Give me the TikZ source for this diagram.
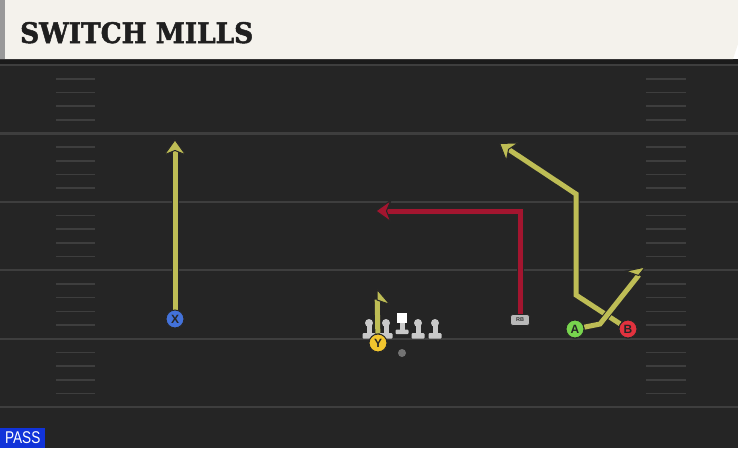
\documentclass[tikz,border=0pt]{standalone}
\usepackage{fontspec}
\usetikzlibrary{positioning, arrows.meta}
\newfontfamily\titlefont[RawFeature={embolden=1.8}]{DejaVu Serif Bold}
\newfontfamily\tagfont{Liberation Sans}
\definecolor{fieldbg}{HTML}{252525}
\definecolor{bandbg}{HTML}{1B1B1B}
\definecolor{yardgray}{HTML}{3E3E3E}
\definecolor{headcream}{HTML}{F4F2EC}
\definecolor{routeyellow}{HTML}{BEBD55}
\definecolor{routered}{HTML}{A3152F}
\definecolor{xblue}{HTML}{4372DA}
\definecolor{ygold}{HTML}{F2C62E}
\definecolor{agreen}{HTML}{78D44E}
\definecolor{bred}{HTML}{E2323E}
\definecolor{linegray}{HTML}{C9C9C9}
\definecolor{passblue}{HTML}{1133D9}

\begin{document}
\begin{tikzpicture}[x=1pt, y=-1pt,
    yardline/.style={draw=yardgray, line width=2.2pt},
    hashmark/.style={draw=yardgray, line width=1.6pt},
    player/.style={circle, draw=black!85, line width=1pt, fill=#1, minimum size=18pt,
        inner sep=0pt, font=\tagfont\bfseries\fontsize{12}{12}\selectfont, text=black!85},
    rbtag/.style={fill=black!28, draw=black!85, line width=0.7pt, rounded corners=2.5pt, minimum width=19pt,
        minimum height=11pt, inner sep=0pt, font=\tagfont\bfseries\fontsize{5.5}{5.5}\selectfont, text=black!80},
    route/.style={line width=5pt, draw=#1, preaction={draw=black!85, line width=7pt}},
    arrowtip/.style={-{Stealth[length=17pt, width=24pt, inset=5pt, line width=1pt, color=black!85, fill=#1]}},
    hooktip/.style={-{Stealth[length=17pt, width=28pt, inset=5pt, line width=1pt, color=black!85, fill=routeyellow, #1]}}]
  \useasboundingbox (0,0) rectangle (738,448);
  % field
  \fill[fieldbg] (0,59) rectangle (738,448);
  \fill[bandbg] (0,59) rectangle (738,64);
  \foreach \k in {0,...,5}
    \draw[yardline] (0,65+68.4*\k) -- (738,65+68.4*\k);
  \foreach \k in {0,...,4}
    \foreach \j in {1,...,4} {
      \draw[hashmark] (56,65+68.4*\k+13.7*\j) -- (95,65+68.4*\k+13.7*\j);
      \draw[hashmark] (646,65+68.4*\k+13.7*\j) -- (686,65+68.4*\k+13.7*\j);
    }
  % header
  \fill[headcream] (0,0) -- (738,0) -- (738,44) -- (733,59) -- (0,59) -- cycle;
  \fill[black!40] (0,0) rectangle (5,59);
  \node[anchor=base west, inner sep=0pt, text=black!88] (title) at (20,43)
    {\titlefont\resizebox{233pt}{21pt}{SWITCH MILLS}};
  \node[anchor=south west, fill=passblue, text=white, minimum width=45pt, minimum height=20pt,
    inner sep=0pt, font=\tagfont\fontsize{17}{17}\selectfont] (pass) at (0,448) {\scalebox{0.8}[1]{PASS}};

  % players
  \node[player=xblue] (X) at (175,319) {X};
  \node[player=ygold] (Y) at (378,343) {Y};
  \node[player=agreen] (A) at (575,329) {A};
  \node[player=bred] (B) at (628,329) {B};
  \node[fill=black!55, circle, minimum size=8pt, inner sep=0pt] (QB) at (402,353) {};
  \node[rbtag] (RB) at (520,320) {RB};
  \coordinate (xend) at (175,139);
  \coordinate (ytop) at (377,288);
  \coordinate (aend) at (646,266);
  \coordinate (bend) at (499,143);
  \coordinate (rbend) at (375,211);

  % routes
  \draw[route=routeyellow, arrowtip=routeyellow] (X) -- (xend);
  \draw[route=routeyellow, hooktip=right] (Y) -- (ytop);
  \draw[route=routered, arrowtip=routered] (RB.north) -- (520,211) -- (rbend);
  \draw[route=routeyellow, arrowtip=routeyellow] (B) -- (576,295) -- (576,194) -- (bend);
  \draw[route=routeyellow, hooktip=left] (A) -- (600,324) -- (aend);

  % line
  \foreach \x in {369,386,418,435} {
    \fill[linegray] (\x,323) circle (4);
    \fill[linegray] (\x-2.5,323) rectangle (\x+2.5,335);
    \fill[linegray, rounded corners=1pt] (\x-6.5,333) rectangle (\x+6.5,338.5);
  }
  \fill[white] (397,313) rectangle (407,323);
  \fill[linegray] (399.5,323) rectangle (404.5,331);
  \fill[linegray, rounded corners=1pt] (395.5,329.5) rectangle (408.5,334);
  \node[player=xblue] at (X) {X};
  \node[player=ygold] at (Y) {Y};
  \node[player=agreen] at (A) {A};
  \node[player=bred] at (B) {B};
  \node[rbtag] at (RB) {RB};
\end{tikzpicture}
\end{document}
